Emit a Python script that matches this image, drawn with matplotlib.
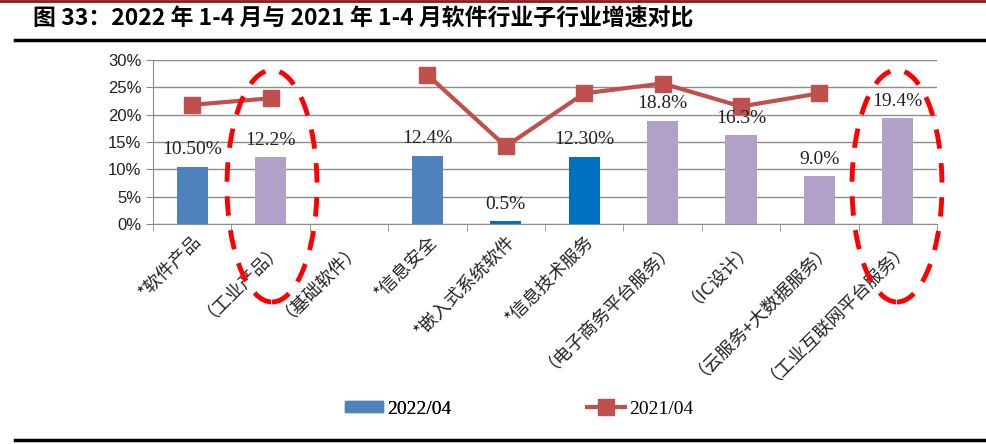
import matplotlib
matplotlib.use("Agg")
import matplotlib.pyplot as plt
import matplotlib.patches as patches
from matplotlib.lines import Line2D
import numpy as np

plt.rcParams['font.family'] = ['Noto Sans CJK SC', 'DejaVu Sans']

# ── Data ─────────────────────────────────────────────────────────────────────
categories = ["*软件产品", "（工业产品）", "（基础软件）", "*信息安全", "*嵌入式系统软件",
              "*信息技术服务", "（电子商务平台服务）", "（IC设计）",
              "（云服务+大数据服务）", "（工业互联网平台服务）"]
growth_2022 = [10.5, 12.2, np.nan, 12.4, 0.5, 12.3, 18.8, 16.2, 8.7, 19.3]
labels_2022 = ["10.50%", "12.2%", "", "12.4%", "0.5%", "12.30%", "18.8%", "16.3%", "9.0%", "19.4%"]
growth_2021 = [21.8, 23.0, np.nan, 27.3, 14.2, 23.9, 25.7, 21.5, 23.9, np.nan]
bar_colors = ["#4F81BD", "#B1A0C7", "#B1A0C7", "#4F81BD", "#0070C0",
              "#0070C0", "#B1A0C7", "#B1A0C7", "#B1A0C7", "#B1A0C7"]
series_names = ["2022/04", "2021/04"]

W, H = 986, 444
fig = plt.figure(figsize=(W / 100, H / 100), dpi=100)
ax = fig.add_axes([153 / W, 1 - 224 / H, 784 / W, 164 / H])

x = np.arange(len(categories))
ax.bar(x, growth_2022, width=0.4, color=bar_colors, zorder=3)
ax.plot(x, growth_2021, color="#C0504D", lw=3, marker="s", ms=11, zorder=4)

for xi, v, lab in zip(x, growth_2022, labels_2022):
    if lab:
        ax.text(xi, v + 1.6, lab, ha="center", va="bottom", fontsize=14,
                family="Liberation Serif", color="#222222", zorder=5)

ax.set_xlim(-0.5, len(categories) - 0.5)
ax.set_ylim(0, 30)
ax.set_yticks(np.arange(0, 31, 5))
ax.set_yticklabels([f"{t}%" for t in range(0, 31, 5)], fontsize=12,
                   family="Liberation Sans", color="#222222")
ax.yaxis.grid(True, color="#8C8C8C", lw=1, zorder=0)
ax.set_axisbelow(True)

ax.set_xticks(x)
ax.set_xticklabels(categories, rotation=45, ha="right", rotation_mode="anchor",
                   fontsize=13, color="#222222")
ax.set_xticks(np.arange(-0.5, len(categories), 1), minor=True)
ax.tick_params(axis="x", which="major", length=0, pad=6)
ax.tick_params(axis="x", which="minor", length=5, color="#8C8C8C")
ax.tick_params(axis="y", length=5, color="#8C8C8C")
for s in ["top", "right"]:
    ax.spines[s].set_visible(False)
for s in ["left", "bottom"]:
    ax.spines[s].set_color("#8C8C8C")

# ── Highlight ellipses ───────────────────────────────────────────────────────
for cx in (272, 897):
    fig.add_artist(patches.Ellipse((cx / W, 1 - 186 / H), 90 / W, 232 / H,
                                   fill=False, edgecolor="#FF0000", lw=3.5,
                                   linestyle=(0, (4, 3)), transform=fig.transFigure,
                                   zorder=10))

# ── Legend (two separately placed entries) ───────────────────────────────────
bar_handle = patches.Patch(color="#4F81BD")
line_handle = Line2D([], [], color="#C0504D", lw=3, marker="s", ms=11)
leg_prop = {"family": "Liberation Serif", "size": 14}
leg1 = fig.legend([bar_handle], [series_names[0]], loc="center left",
                  bbox_to_anchor=(327 / W, 1 - 409 / H), frameon=False,
                  handlelength=2.0, handleheight=0.45, handletextpad=0.2,
                  prop=leg_prop)
fig.add_artist(leg1)
fig.legend([line_handle], [series_names[1]], loc="center left",
           bbox_to_anchor=(569 / W, 1 - 409 / H), frameon=False,
           handlelength=2.0, handletextpad=0.2, prop=leg_prop)

# ── Title & rules ────────────────────────────────────────────────────────────
fig.text(33 / W, 1 - 19 / H, "图 33：2022 年 1-4 月与 2021 年 1-4 月软件行业子行业增速对比",
         fontsize=16.5, fontweight="bold", va="center", ha="left")
fig.add_artist(Line2D([0, 1], [1 - 1 / H, 1 - 1 / H], color="#8B1A1A", lw=2))
fig.add_artist(Line2D([15 / W, 1], [1 - 40 / H, 1 - 40 / H], color="black", lw=2.5))
fig.add_artist(Line2D([15 / W, 1], [1 - 440 / H, 1 - 440 / H], color="black", lw=2.5))

fig.savefig("out.png", dpi=100)
